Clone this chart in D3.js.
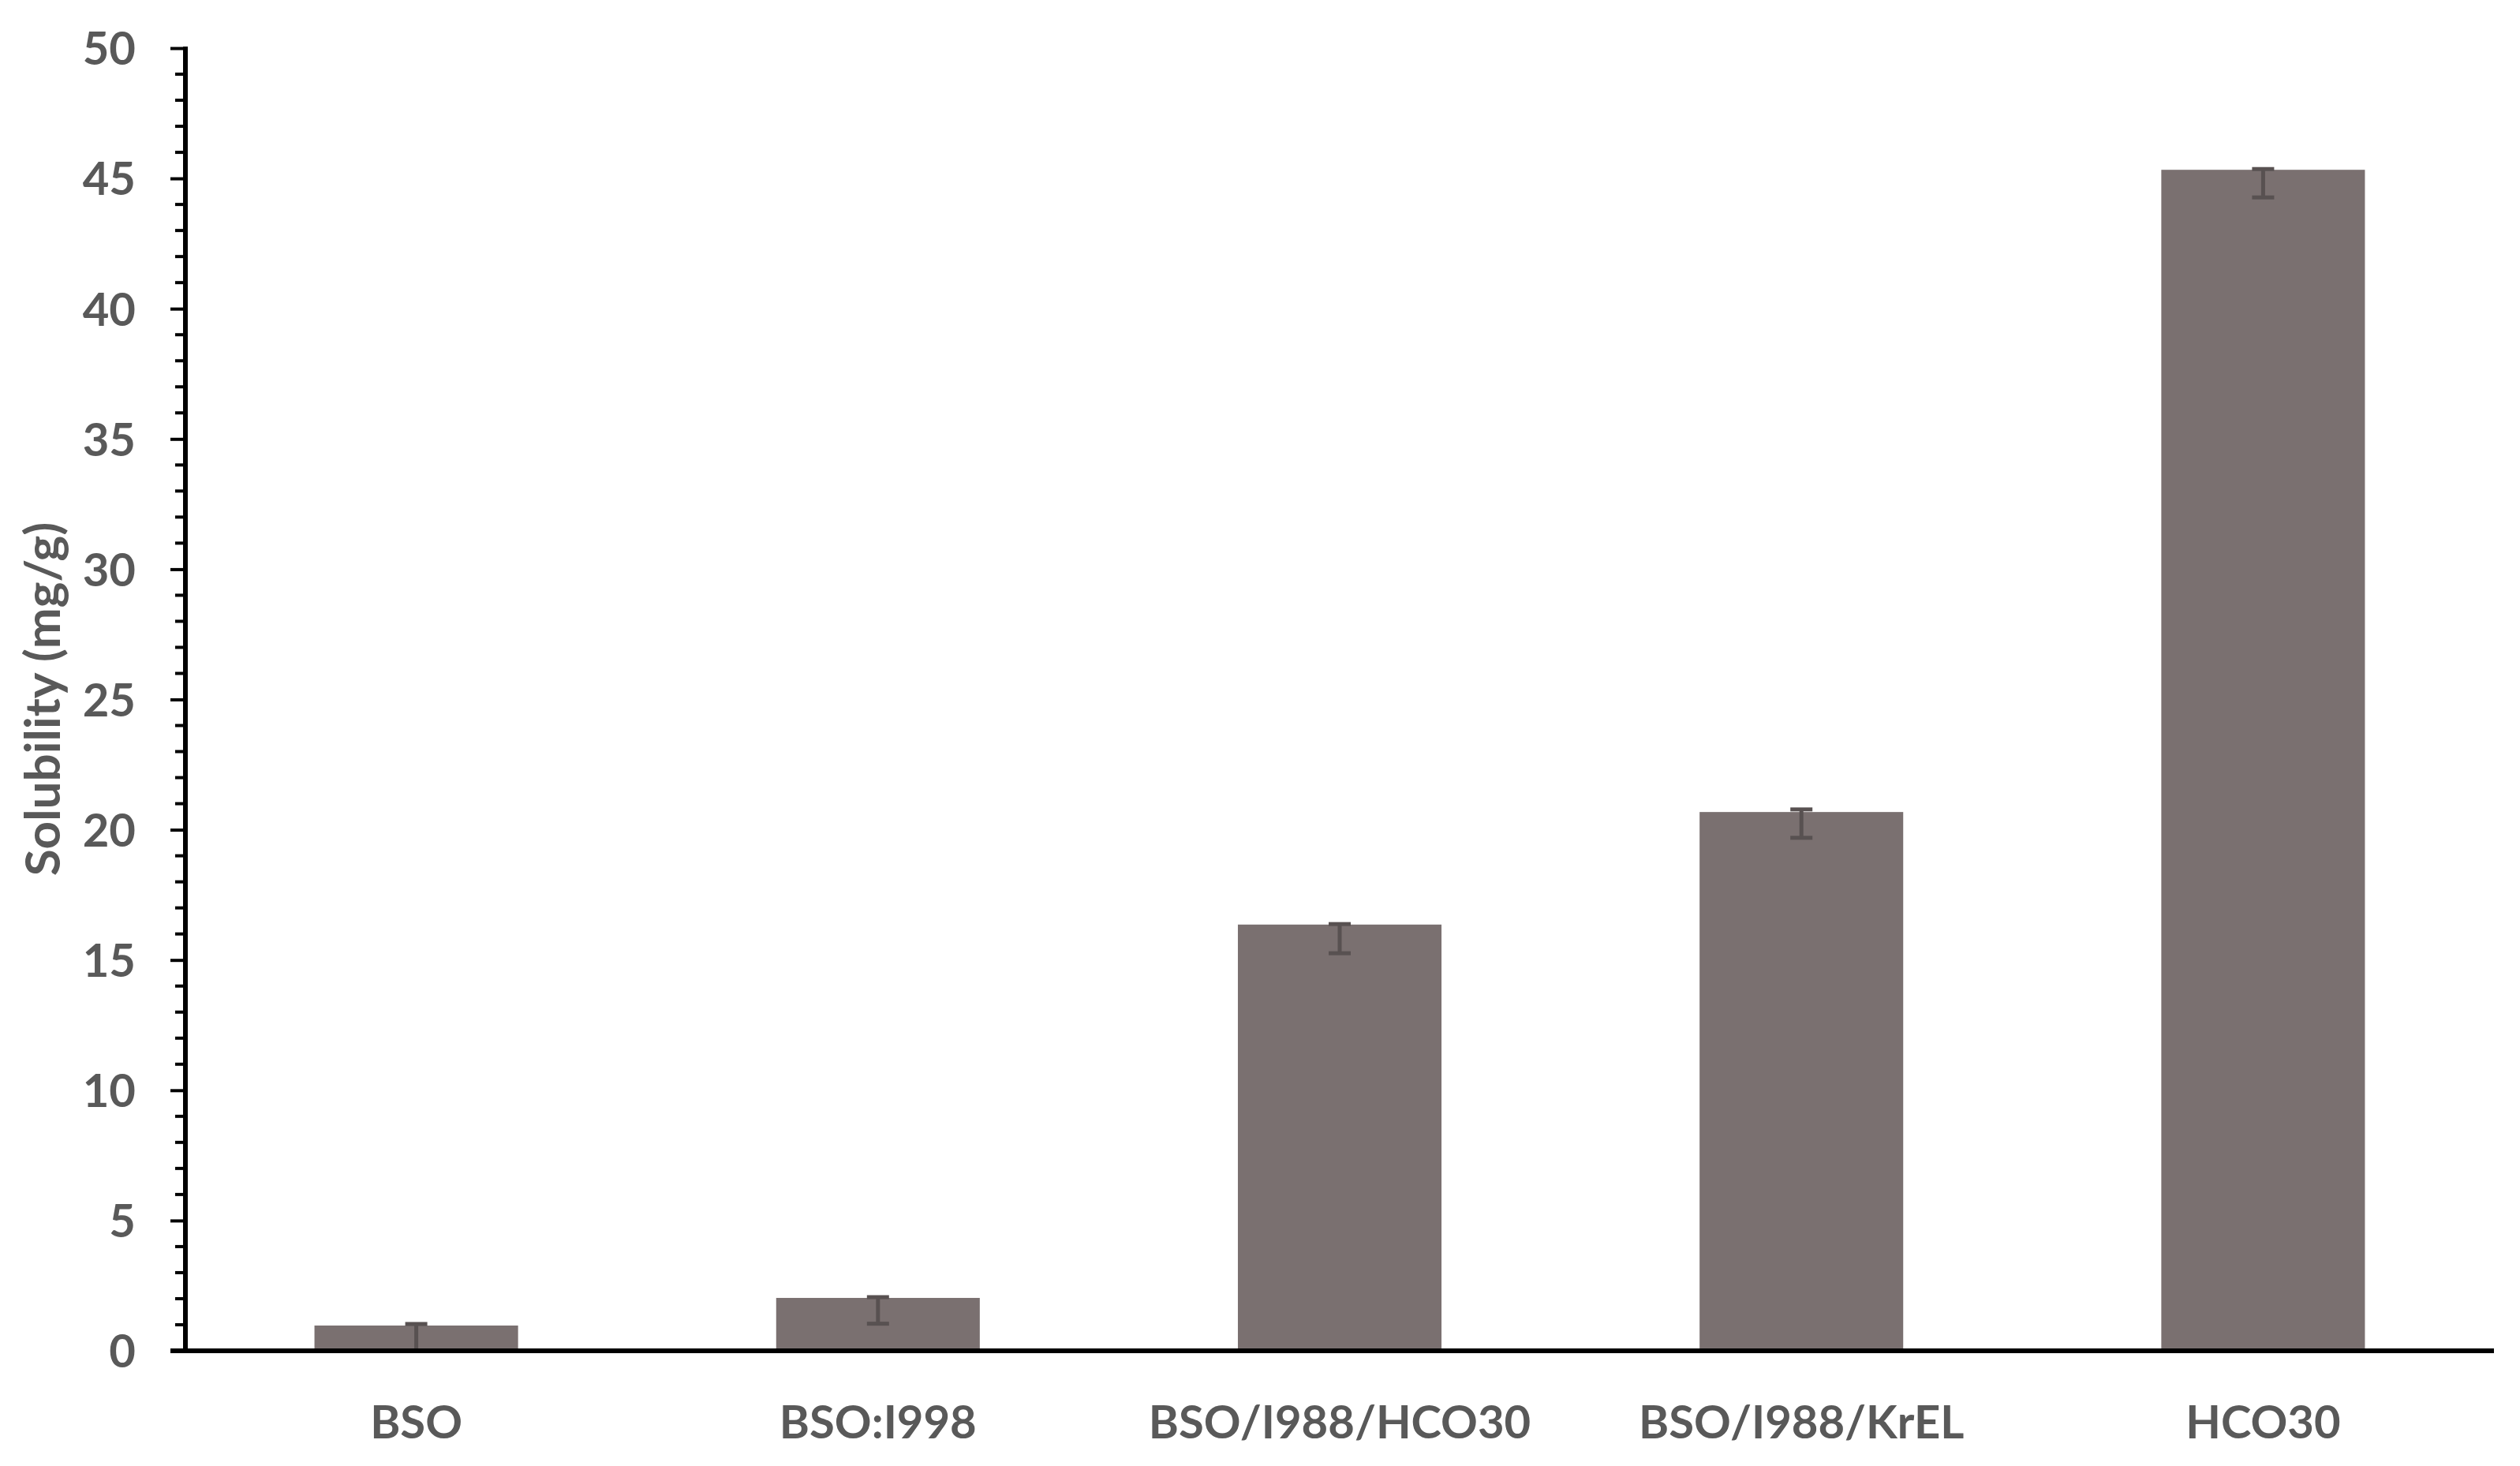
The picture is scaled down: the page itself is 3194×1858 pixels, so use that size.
<!DOCTYPE html>
<html>
<head>
<meta charset="utf-8">
<script src="https://cdn.jsdelivr.net/npm/d3@7"></script>
<style>
  html, body { margin: 0; padding: 0; background: #fff; }
  svg { display: block; }
  text { font-family: Lato, "Open Sans", sans-serif; font-weight: bold; fill: #595959; }
</style>
</head>
<body>
<svg id="chart" width="3194" height="1858"></svg>
<script>
const categories = ["BSO", "BSO:I998", "BSO/I988/HCO30", "BSO/I988/KrEL", "HCO30"];
const values = [0.97, 2.03, 16.36, 20.68, 45.33];
const errUp = [0.06, 0.03, 0.02, 0.10, 0.03];
const errDown = [0.97, 0.99, 1.10, 0.99, 1.06];
const majorTicks = [0, 5, 10, 15, 20, 25, 30, 35, 40, 45, 50];
const minorTicks = d3.range(0, 51, 1);
const yTitle = "Solubility (mg/g)";

const W = 3194, H = 1858;
const m = { left: 235, right: 33, top: 61, bottom: 146 };
const svg = d3.select("#chart");

const x = d3.scaleBand()
  .domain(categories)
  .range([m.left, W - m.right])
  .paddingInner(0.559)
  .paddingOuter(0.2795);

const y = d3.scaleLinear()
  .domain([0, 50])
  .range([H - m.bottom, m.top]);

const data = categories.map((c, i) => ({ c, v: values[i], up: errUp[i], dn: errDown[i] }));

// bars
svg.append("g").selectAll("rect").data(data).join("rect")
  .attr("x", d => x(d.c))
  .attr("width", x.bandwidth())
  .attr("y", d => y(d.v))
  .attr("height", d => y(0) - y(d.v))
  .attr("fill", "#7a7070");

// error bars
const eg = svg.append("g").attr("stroke", "#585151").attr("stroke-width", 5);
const cx = d => x(d.c) + x.bandwidth() / 2;
const capW = 28;
eg.selectAll("line.stem").data(data).join("line")
  .attr("class", "stem")
  .attr("x1", cx).attr("x2", cx)
  .attr("y1", d => y(d.v + d.up))
  .attr("y2", d => y(Math.max(0, d.v - d.dn)));
eg.selectAll("line.capT").data(data).join("line")
  .attr("class", "capT")
  .attr("x1", d => cx(d) - capW / 2).attr("x2", d => cx(d) + capW / 2)
  .attr("y1", d => y(d.v + d.up)).attr("y2", d => y(d.v + d.up));
eg.selectAll("line.capB").data(data).join("line")
  .attr("class", "capB")
  .attr("x1", d => cx(d) - capW / 2).attr("x2", d => cx(d) + capW / 2)
  .attr("y1", d => y(Math.max(0, d.v - d.dn))).attr("y2", d => y(Math.max(0, d.v - d.dn)));

// y axis minor ticks
const axX = m.left;
svg.append("g").selectAll("line").data(minorTicks.filter(t => t % 5 !== 0)).join("line")
  .attr("x1", axX - 13).attr("x2", axX)
  .attr("y1", d => y(d)).attr("y2", d => y(d))
  .attr("stroke", "#000").attr("stroke-width", 4);

// y axis with major ticks
const yAxis = d3.axisLeft(y).tickValues(majorTicks).tickSize(19).tickPadding(44).tickFormat(d3.format("d"));
const ya = svg.append("g").attr("transform", `translate(${axX},0)`).call(yAxis);
ya.select(".domain").remove();
ya.selectAll(".tick line").attr("stroke", "#000").attr("stroke-width", 4);
ya.selectAll(".tick text")
  .attr("font-size", 58)
  .attr("font-family", "Lato, sans-serif")
  .attr("font-weight", "bold")
  .attr("fill", "#595959")
  .attr("dy", "0.36em");
svg.append("line")
  .attr("x1", axX).attr("x2", axX)
  .attr("y1", y(50) - 2).attr("y2", y(0) + 3)
  .attr("stroke", "#000").attr("stroke-width", 6);

// x axis
const xAxis = d3.axisBottom(x).tickSize(0).tickPadding(70);
const xa = svg.append("g").attr("transform", `translate(0,${y(0)})`).call(xAxis);
xa.select(".domain").remove();
xa.selectAll(".tick text")
  .attr("font-size", 58)
  .attr("font-family", "Lato, sans-serif")
  .attr("font-weight", "bold")
  .attr("fill", "#595959");
svg.append("line")
  .attr("x1", axX - 19).attr("x2", W - m.right)
  .attr("y1", y(0)).attr("y2", y(0))
  .attr("stroke", "#000").attr("stroke-width", 6);

// y title
svg.append("text")
  .attr("transform", `translate(52,886) rotate(-90)`)
  .attr("text-anchor", "middle")
  .attr("dominant-baseline", "central")
  .attr("font-size", 62)
  .text(yTitle);
</script>
</body>
</html>
